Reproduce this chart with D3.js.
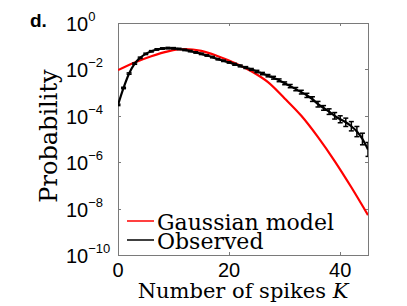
<!DOCTYPE html>
<html>
<head>
<meta charset="utf-8">
<script src="https://cdn.jsdelivr.net/npm/d3@7"></script>
<style>
  body { margin: 0; background: #fff; }
  svg { display: block; }
</style>
</head>
<body>
<div class="svg-container"></div>
<script>
// Data (log10 of probability)
const spikeCounts = d3.range(0, 46);
const observedLog10 = [-3.53, -2.8, -2.18, -1.75, -1.5, -1.33, -1.22, -1.14, -1.1, -1.08,
    -1.09, -1.12, -1.16, -1.21, -1.27, -1.33, -1.40, -1.47, -1.56, -1.63,
    -1.70, -1.78, -1.85, -1.92, -2.0, -2.09, -2.18, -2.27, -2.36, -2.47,
    -2.6, -2.72, -2.85, -2.98, -3.12, -3.28, -3.5, -3.66, -3.82, -4.0,
    -4.15, -4.28, -4.45, -4.68, -5.0, -5.45];
const observedErrLog10 = [0.03, 0.03, 0.03, 0.03, 0.03, 0.03, 0.03, 0.03, 0.03, 0.03,
    0.03, 0.03, 0.03, 0.03, 0.03, 0.03, 0.03, 0.03, 0.03, 0.03,
    0.03, 0.04, 0.04, 0.04, 0.04, 0.05, 0.05, 0.05, 0.06, 0.06,
    0.06, 0.07, 0.07, 0.08, 0.09, 0.1, 0.12, 0.1, 0.12, 0.14,
    0.15, 0.18, 0.2, 0.22, 0.25, 0.3];
const gaussianK = [0, 3, 6, 9, 12, 15, 18, 21, 24, 27, 30, 33, 36, 39, 42, 45];
const gaussianLog10 = [-2.03, -1.70, -1.43, -1.22, -1.12, -1.2, -1.43, -1.72, -2.08, -2.55,
    -3.25, -4.0, -4.92, -5.95, -7.08, -8.28];
const xTicks = [0, 20, 40];
const yTickExps = [0, -2, -4, -6, -8, -10];
const legendItems = [
    { label: 'Gaussian model', color: '#ff0000' },
    { label: 'Observed', color: '#000000' }
];

const W = 407, H = 306;
const M = { left: 118, right: 368, top: 23, bottom: 255 };

const svg = d3.select('.svg-container').append('svg')
    .attr('width', W)
    .attr('height', H);

const x = d3.scaleLinear().domain([0, 45]).range([M.left, M.right]);
const y = d3.scaleLog().domain([1e-10, 1]).range([M.bottom, M.top]);

svg.append('clipPath').attr('id', 'plot-clip')
    .append('rect')
    .attr('x', M.left).attr('y', M.top)
    .attr('width', M.right - M.left).attr('height', M.bottom - M.top);

// Box
const boxColor = '#7a7a7a';
svg.append('rect')
    .attr('x', M.left + 0.5).attr('y', M.top + 0.5)
    .attr('width', M.right - M.left).attr('height', M.bottom - M.top)
    .attr('fill', 'none')
    .attr('stroke', boxColor);

// Ticks
const tickLen = 3;
xTicks.forEach(t => {
    const px = Math.round(x(t)) + 0.5;
    svg.append('line').attr('x1', px).attr('x2', px)
        .attr('y1', M.bottom).attr('y2', M.bottom - tickLen).attr('stroke', boxColor);
    svg.append('line').attr('x1', px).attr('x2', px)
        .attr('y1', M.top).attr('y2', M.top + tickLen).attr('stroke', boxColor);
    svg.append('text')
        .attr('x', x(t)).attr('y', 277)
        .attr('text-anchor', 'middle')
        .attr('font-family', 'Liberation Sans, Arial, sans-serif')
        .attr('font-size', 20)
        .text(t);
});

yTickExps.forEach(e => {
    const py = Math.round(y(Math.pow(10, e))) + 0.5;
    svg.append('line').attr('x1', M.left).attr('x2', M.left + tickLen)
        .attr('y1', py).attr('y2', py).attr('stroke', boxColor);
    svg.append('line').attr('x1', M.right).attr('x2', M.right - tickLen)
        .attr('y1', py).attr('y2', py).attr('stroke', boxColor);
    const label = svg.append('text')
        .attr('x', 66).attr('y', py + 7)
        .attr('font-family', 'Liberation Sans, Arial, sans-serif')
        .attr('font-size', 20);
    label.append('tspan').text('10');
    label.append('tspan')
        .attr('dy', -10)
        .attr('font-size', 13)
        .text(e === 0 ? '0' : '\u2212' + Math.abs(e));
});

// Gaussian model line
const gaussData = gaussianK.map((k, i) => ({ k: k, v: gaussianLog10[i] }));
svg.append('path')
    .datum(gaussData)
    .attr('clip-path', 'url(#plot-clip)')
    .attr('fill', 'none')
    .attr('stroke', '#ff0000')
    .attr('stroke-width', 2.2)
    .attr('d', d3.line()
        .curve(d3.curveMonotoneX)
        .x(d => x(d.k))
        .y(d => y(Math.pow(10, d.v))));

// Observed line with error bars
const obsData = spikeCounts.map((k, i) => ({ k: k, v: observedLog10[i], e: observedErrLog10[i] }));
const obsGroup = svg.append('g').attr('clip-path', 'url(#plot-clip)');
obsGroup.append('path')
    .datum(obsData)
    .attr('fill', 'none')
    .attr('stroke', '#000')
    .attr('stroke-width', 2.2)
    .attr('d', d3.line()
        .curve(d3.curveMonotoneX)
        .x(d => x(d.k))
        .y(d => y(Math.pow(10, d.v))));

const bars = obsGroup.selectAll('.ebar')
    .data(obsData)
    .enter()
    .append('g')
    .attr('class', 'ebar');
bars.append('line')
    .attr('x1', d => x(d.k)).attr('x2', d => x(d.k))
    .attr('y1', d => y(Math.pow(10, d.v - d.e)))
    .attr('y2', d => y(Math.pow(10, d.v + d.e)))
    .attr('stroke', '#000').attr('stroke-width', 1.5);
['-', '+'].forEach(s => {
    bars.append('line')
        .attr('x1', d => x(d.k) - 2.5).attr('x2', d => x(d.k) + 2.5)
        .attr('y1', d => y(Math.pow(10, s === '-' ? d.v - d.e : d.v + d.e)))
        .attr('y2', d => y(Math.pow(10, s === '-' ? d.v - d.e : d.v + d.e)))
        .attr('stroke', '#000').attr('stroke-width', 1.5);
});

// Legend
legendItems.forEach((item, i) => {
    const ly = 221 + i * 19;
    svg.append('line')
        .attr('x1', 127).attr('x2', 154)
        .attr('y1', ly).attr('y2', ly)
        .attr('stroke', item.color).attr('stroke-width', 1.5);
    svg.append('text')
        .attr('x', 157).attr('y', ly + 9)
        .attr('font-family', 'DejaVu Serif, serif')
        .attr('font-size', 22)
        .text(item.label);
});

// Axis titles
const xTitle = svg.append('text')
    .attr('x', 243).attr('y', 298)
    .attr('text-anchor', 'middle')
    .attr('font-family', 'DejaVu Serif, serif')
    .attr('font-size', 21);
xTitle.append('tspan').text('Number of spikes ');
xTitle.append('tspan').attr('font-style', 'italic').text('K');

svg.append('text')
    .attr('transform', 'translate(57, 136) rotate(-90)')
    .attr('text-anchor', 'middle')
    .attr('font-family', 'DejaVu Serif, serif')
    .attr('font-size', 24)
    .text('Probability');

// Panel letter
svg.append('text')
    .attr('x', 30).attr('y', 27)
    .attr('font-family', 'Liberation Sans, Arial, sans-serif')
    .attr('font-weight', 'bold')
    .attr('font-size', 19)
    .text('d.');
</script>
</body>
</html>
